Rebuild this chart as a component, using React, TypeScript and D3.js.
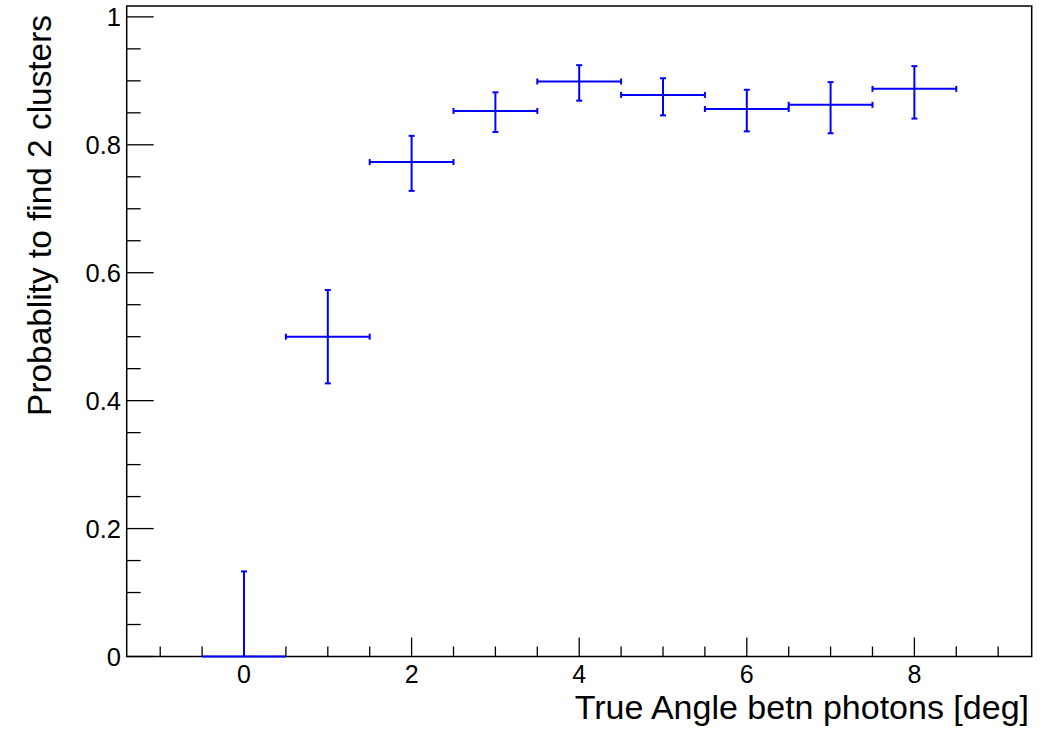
import React from "react";
import * as d3 from "d3";

const binCenters = [0, 1, 2, 3, 4, 5, 6, 7, 8];
const probValues = [0, 0.5, 0.773, 0.853, 0.899, 0.878, 0.856, 0.8625, 0.8875];
const errUp = [0.133, 0.073, 0.041, 0.029, 0.0255, 0.026, 0.03, 0.0355, 0.0355];
const errDown = [0, 0.073, 0.045, 0.033, 0.03, 0.032, 0.035, 0.0445, 0.0465];
const binHalfWidth = [0.5, 0.5, 0.5, 0.5, 0.5, 0.5, 0.5, 0.5, 0.5];
const xMajorTicks = [0, 2, 4, 6, 8];
const yMajorTicks = [0, 0.2, 0.4, 0.6, 0.8, 1];
const yTickLabels = ["0", "0.2", "0.4", "0.6", "0.8", "1"];
const xTitle = "True Angle betn photons [deg]";
const yTitle = "Probablity to find 2 clusters";

const W = 1058;
const H = 730;
const FL = 126.7;
const FR = 1031.7;
const FT = 6;
const FB = 656.5;

export default function App() {
  const x = d3.scaleLinear().domain([-1.4, 9.4]).range([FL, FR]);
  const y = d3.scaleLinear().domain([0, 1.017]).range([FB, FT]);
  const xMinor = d3.range(-1, 9.01, 0.5).filter((v) => !xMajorTicks.some((m) => Math.abs(m - v) < 1e-6));
  const yMinor = d3.range(0, 1.001, 0.05).filter((v) => !yMajorTicks.some((m) => Math.abs(m - v) < 1e-6));
  const font = "'Liberation Sans', Arial, Helvetica, sans-serif";
  const blue = "#0000ff";
  const cap = 3;
  return (
    <div style={{ position: "absolute", left: 0, top: 0 }}>
      <svg width={W} height={H} style={{ display: "block", background: "#fff" }}>
        <rect x={0} y={0} width={W} height={H} fill="#fff" />
        <rect x={FL} y={FT} width={FR - FL} height={FB - FT} fill="none" stroke="#000" strokeWidth={1.5} />
        {xMajorTicks.map((t) => (
          <g key={"xm" + t}>
            <line x1={x(t)} x2={x(t)} y1={FB} y2={FB - 19} stroke="#000" strokeWidth={1.3} />
            <text x={x(t)} y={682.5} textAnchor="middle" fontFamily={font} fontSize={25} fill="#000">
              {t}
            </text>
          </g>
        ))}
        {xMinor.map((t) => (
          <line key={"xn" + t} x1={x(t)} x2={x(t)} y1={FB} y2={FB - 10} stroke="#000" strokeWidth={1.3} />
        ))}
        {yMajorTicks.map((t, i) => (
          <g key={"ym" + t}>
            <line x1={FL} x2={FL + 27} y1={y(t)} y2={y(t)} stroke="#000" strokeWidth={1.3} />
            <text x={121} y={y(t) + 9} textAnchor="end" fontFamily={font} fontSize={25.5} fill="#000">
              {yTickLabels[i]}
            </text>
          </g>
        ))}
        {yMinor.map((t) => (
          <line key={"yn" + t} x1={FL} x2={FL + 14} y1={y(t)} y2={y(t)} stroke="#000" strokeWidth={1.3} />
        ))}
        <text x={1029} y={719} textAnchor="end" fontFamily={font} fontSize={34} fill="#000">
          {xTitle}
        </text>
        <text
          transform={`translate(50.5,15) rotate(-90)`}
          textAnchor="end"
          fontFamily={font}
          fontSize={33.4}
          fill="#000"
        >
          {yTitle}
        </text>
        {binCenters.map((c, i) => {
          const cx = x(c);
          const cy = y(probValues[i]);
          const xl = x(c - binHalfWidth[i]);
          const xr = x(c + binHalfWidth[i]);
          const yt = y(probValues[i] + errUp[i]);
          const yb = y(probValues[i] - errDown[i]);
          return (
            <g key={"p" + i} stroke={blue} strokeWidth={2} fill="none">
              <line x1={xl} x2={xr} y1={cy} y2={cy} />
              <line x1={cx} x2={cx} y1={yt} y2={yb} />
              <line x1={cx - cap} x2={cx + cap} y1={yt} y2={yt} />
              {errDown[i] > 0 && <line x1={cx - cap} x2={cx + cap} y1={yb} y2={yb} />}
              {probValues[i] > 0 && <line x1={xl} x2={xl} y1={cy - cap} y2={cy + cap} />}
              {probValues[i] > 0 && <line x1={xr} x2={xr} y1={cy - cap} y2={cy + cap} />}
            </g>
          );
        })}
      </svg>
    </div>
  );
}
